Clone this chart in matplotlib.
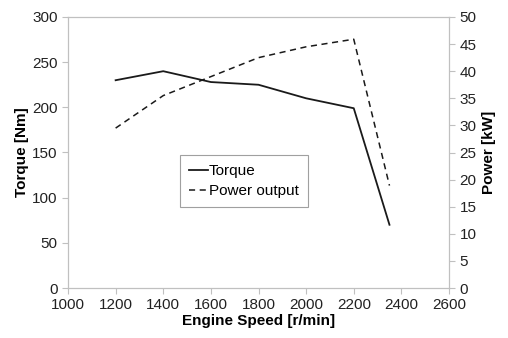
import matplotlib
matplotlib.use("Agg")
import matplotlib.pyplot as plt

plt.rcParams['font.family'] = ['Liberation Sans', 'DejaVu Sans']

speed = [1200, 1400, 1600, 1800, 2000, 2200, 2350]
torque = [230, 240, 228, 225, 210, 199, 70]
power = [29.5, 35.5, 39.0, 42.5, 44.5, 45.9, 18.9]

grey = '#c0c0c0'

fig = plt.figure(figsize=(5.08, 3.38), dpi=100)
ax = fig.add_axes([68 / 508, 1 - 288 / 338, 381 / 508, 271 / 338])
ax2 = ax.twinx()

l1, = ax.plot(speed, torque, color='#1a1a1a', lw=1.3, label='Torque')
l2, = ax2.plot(speed, power, color='#1a1a1a', lw=1.1, ls=(0, (4, 3)), label='Power output')

ax.set_xlim(1000, 2600)
ax.set_ylim(0, 300)
ax2.set_ylim(0, 50)
ax.set_xticks(range(1000, 2601, 200))
ax.set_yticks(range(0, 301, 50))
ax2.set_yticks(range(0, 51, 5))

for a in (ax, ax2):
    for s in a.spines.values():
        s.set_color(grey)
        s.set_linewidth(0.8)
    a.tick_params(colors=grey, labelcolor='#222222', labelsize=11, length=4, width=0.8, direction='out')

ax.set_xlabel('Engine Speed [r/min]', fontsize=11, fontweight='bold', labelpad=1)
ax.set_ylabel('Torque [Nm]', fontsize=11, fontweight='bold', labelpad=2)
ax2.set_ylabel('Power [kW]', fontsize=11, fontweight='bold', rotation=90, labelpad=4)

leg = ax.legend([l1, l2], ['Torque', 'Power output'], loc='upper left',
                bbox_to_anchor=((180 - 68) / 381, (288 - 155) / 271),
                borderaxespad=0, fontsize=11, frameon=True, fancybox=False,
                handlelength=1.2, handletextpad=0.1, borderpad=0.6,
                labelspacing=0.4)
leg.get_frame().set_edgecolor('#888888')
leg.get_frame().set_linewidth(0.8)

fig.savefig('out.png', dpi=100)
